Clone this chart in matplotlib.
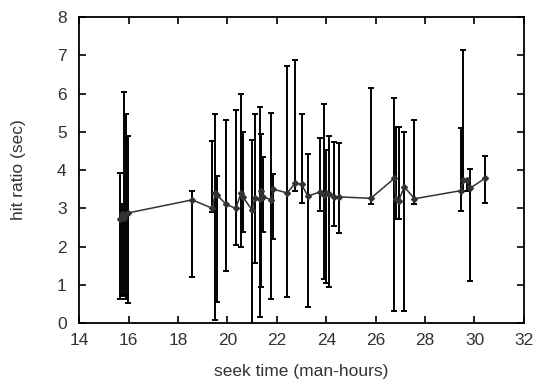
import matplotlib
matplotlib.use('Agg')
import matplotlib.pyplot as plt
import numpy as np

# seek time (man-hours)
seek_time = [15.63, 15.72, 15.82, 15.90, 15.99, 18.57, 19.39, 19.50, 19.58, 19.95,
             20.34, 20.55, 20.62, 21.00, 21.10, 21.30, 21.37, 21.45, 21.78, 21.85,
             22.42, 22.73, 23.00, 23.25, 23.76, 23.90, 24.00, 24.10, 24.30, 24.50,
             25.80, 26.75, 26.82, 26.93, 27.16, 27.57, 29.44, 29.55, 29.68, 29.81,
             30.42]
# hit ratio (sec), mean and bar ends
hit_ratio = [2.72, 2.85, 2.75, 2.85, 2.88, 3.22, 3.00, 3.40, 3.35, 3.10,
             3.00, 3.40, 3.30, 2.95, 3.26, 3.24, 3.45, 3.30, 3.22, 3.50,
             3.40, 3.65, 3.63, 3.32, 3.43, 3.35, 3.40, 3.38, 3.30, 3.30,
             3.26, 3.78, 3.23, 3.20, 3.56, 3.25, 3.46, 3.74, 3.74, 3.52,
             3.78]
hit_low = [0.63, 0.72, 0.73, 0.63, 0.52, 1.20, 2.90, 0.08, 0.55, 1.36,
           2.04, 2.00, 2.37, -0.50, 1.56, 0.17, 0.95, 2.39, 0.63, 2.20,
           0.69, 3.45, 3.15, 0.43, 2.93, 1.16, 1.05, 0.95, 2.54, 2.36,
           3.10, 0.31, 2.72, 2.72, 0.31, 3.10, 2.93, 3.45, 3.45, 1.10,
           3.15]
hit_high = [3.93, 3.12, 6.04, 5.46, 4.89, 3.45, 4.77, 5.47, 3.84, 5.31,
            5.57, 5.98, 4.99, 4.78, 5.46, 5.66, 4.93, 4.35, 5.50, 3.89,
            6.73, 6.88, 5.46, 4.41, 4.85, 5.72, 4.52, 4.89, 4.74, 4.71,
            6.14, 5.87, 5.13, 5.13, 4.99, 5.31, 5.10, 7.14, 3.74, 4.04,
            4.37]

x = np.array(seek_time)
y = np.array(hit_ratio)
yerr = [y - np.array(hit_low), np.array(hit_high) - y]

plt.rcParams['font.family'] = ['Liberation Sans', 'DejaVu Sans']
plt.rcParams['font.size'] = 12.5

fig = plt.figure(figsize=(5.39, 3.86), dpi=100)
ax = fig.add_axes([0.147, 0.163, 0.825, 0.793])

ax.errorbar(x, y, yerr=yerr, fmt='-D', color='#333333', ecolor='black',
            elinewidth=1.4, capsize=2.5, capthick=1.4, markersize=3, linewidth=1.1)

ax.set_xlim(14, 32)
ax.set_ylim(0, 8)
ax.set_xticks(range(14, 33, 2))
ax.set_yticks(range(0, 9))
ax.tick_params(direction='in', top=True, right=True, length=5, width=1.2,
               labelcolor='#333333')
ax.tick_params(axis='x', pad=7)
ax.tick_params(axis='y', pad=9)
for s in ax.spines.values():
    s.set_linewidth(1.3)

ax.set_xlabel('seek time (man-hours)', color='#333333', labelpad=12)
ax.set_ylabel('hit ratio (sec)', color='#333333', labelpad=22)

fig.savefig('out.png', dpi=100)
